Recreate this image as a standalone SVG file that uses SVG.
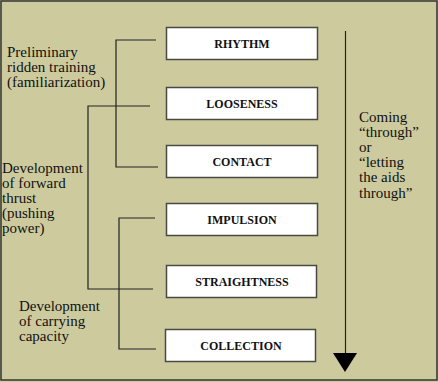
<svg xmlns="http://www.w3.org/2000/svg" width="438" height="382" viewBox="0 0 438 382">
<defs>
<style>
.box{fill:#ffffff;stroke:#4a4a44;stroke-width:1.5}
.lbl{font-family:'Liberation Serif','DejaVu Serif',serif;font-weight:bold;font-size:12px;fill:#111;text-anchor:middle}
.txt{font-family:'Liberation Serif','DejaVu Serif',serif;font-size:15px;fill:#111}
.ln{fill:none;stroke:#222;stroke-width:1.2}
</style>
</defs>
<rect x="0" y="0" width="438" height="382" fill="#cdcb9e"/>
<rect x="1" y="1" width="436" height="379" fill="none" stroke="#333" stroke-width="1.5"/>
<g id="connectors">
<polyline class="ln" points="156,40 116,40 116,167 158,167"/>
<polyline class="ln" points="150,106 88,106 88,289 153,289"/>
<polyline class="ln" points="155,218 119,218 119,349 156,349"/>
<line class="ln" x1="345.5" y1="31" x2="345.5" y2="355"/>
<polygon points="333,353 357,353 345,372" fill="#000"/>
</g>
<g id="rhythm"><rect class="box" x="166.5" y="27.5" width="151" height="32"/><text class="lbl" x="242" y="47.5">RHYTHM</text></g>
<g id="looseness"><rect class="box" x="166.5" y="87.5" width="151" height="32"/><text class="lbl" x="242" y="107.5">LOOSENESS</text></g>
<g id="contact"><rect class="box" x="166.5" y="145.5" width="151" height="32"/><text class="lbl" x="242" y="165.5">CONTACT</text></g>
<g id="impulsion"><rect class="box" x="166.5" y="203.5" width="151" height="32"/><text class="lbl" x="242" y="223.5">IMPULSION</text></g>
<g id="straightness"><rect class="box" x="166.5" y="265.5" width="150" height="32"/><text class="lbl" x="242" y="285.5">STRAIGHTNESS</text></g>
<g id="collection"><rect class="box" x="165.5" y="329.5" width="150" height="32"/><text class="lbl" x="241" y="349.5">COLLECTION</text></g>
<g id="preliminary">
<text class="txt" x="7" y="57">Preliminary</text>
<text class="txt" x="7" y="72">ridden training</text>
<text class="txt" x="7" y="87">(familiarization)</text>
</g>
<g id="forward">
<text class="txt" x="2" y="173">Development</text>
<text class="txt" x="2" y="188">of forward</text>
<text class="txt" x="2" y="203">thrust</text>
<text class="txt" x="2" y="218">(pushing</text>
<text class="txt" x="2" y="233">power)</text>
</g>
<g id="carrying">
<text class="txt" x="19" y="311">Development</text>
<text class="txt" x="19" y="326">of carrying</text>
<text class="txt" x="19" y="341">capacity</text>
</g>
<g id="through">
<text class="txt" x="359" y="122">Coming</text>
<text class="txt" x="359" y="137">“through”</text>
<text class="txt" x="359" y="152">or</text>
<text class="txt" x="359" y="167">“letting</text>
<text class="txt" x="359" y="182">the aids</text>
<text class="txt" x="359" y="198">through”</text>
</g>
</svg>
